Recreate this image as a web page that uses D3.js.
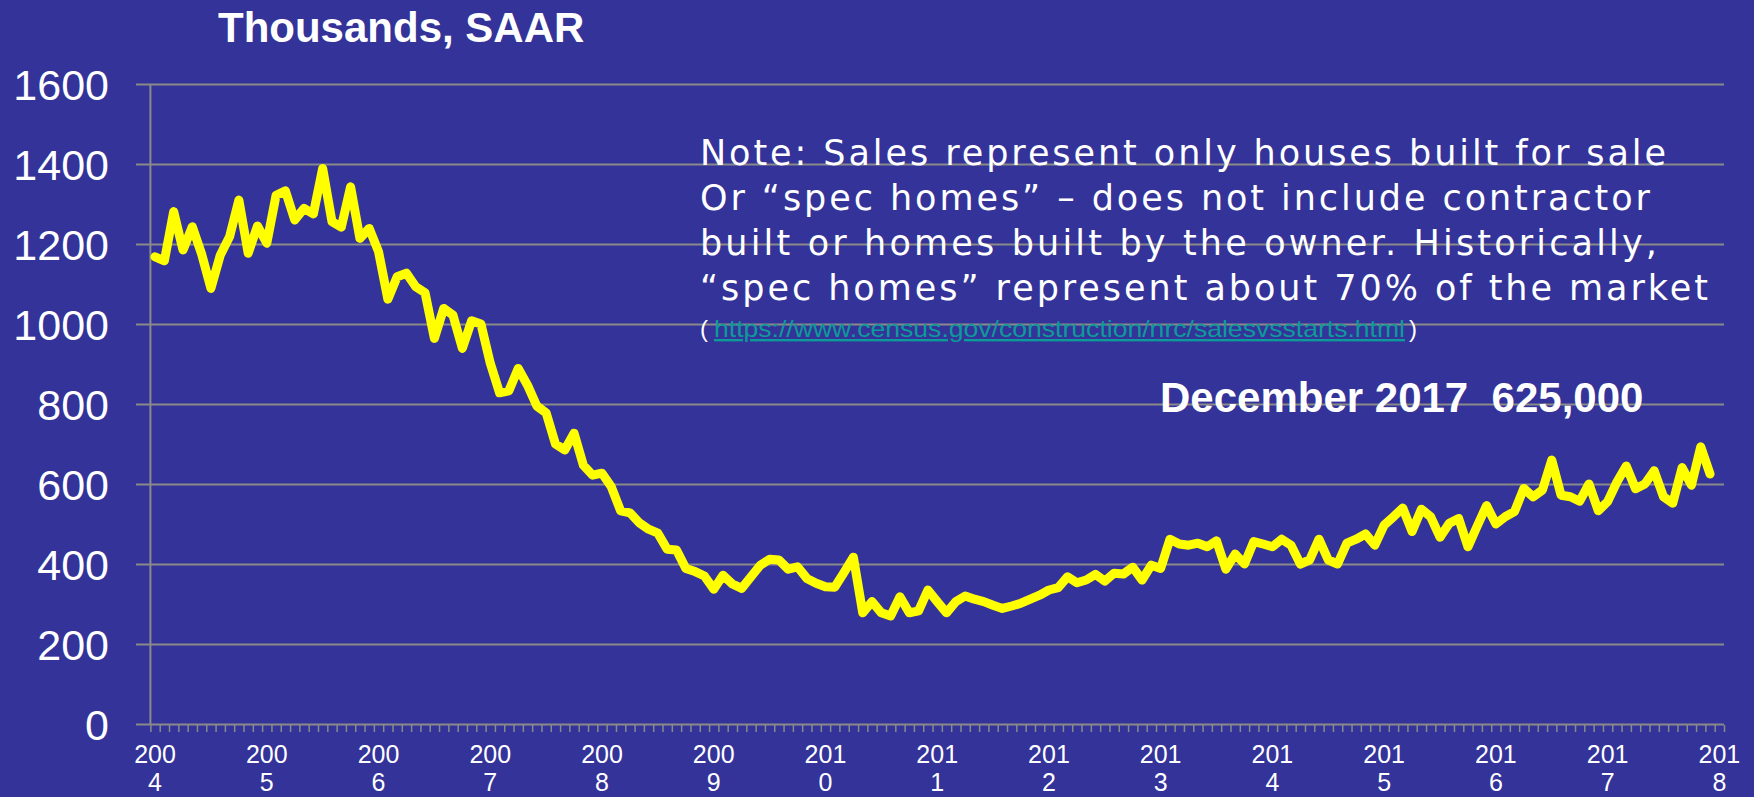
<!DOCTYPE html>
<html>
<head>
<meta charset="utf-8">
<script src="https://cdn.jsdelivr.net/npm/d3@7"></script>
<style>
  html, body { margin: 0; padding: 0; background: #333399; overflow: hidden; }
  svg { display: block; }
</style>
</head>
<body>
<svg id="chart" width="1754" height="797"></svg>
<script>
// ---- Data: new single-family houses sold (built for sale), thousands SAAR, Jan 2004 – Dec 2017 ----
const sales2004 = [1168, 1158, 1281, 1185, 1243, 1175, 1089, 1172, 1218, 1310, 1177, 1245];
const sales2005 = [1202, 1322, 1333, 1260, 1289, 1275, 1389, 1256, 1242, 1343, 1214, 1239];
const sales2006 = [1181, 1062, 1118, 1127, 1093, 1078, 964, 1039, 1022, 939, 1008, 1000];
const sales2007 = [902, 828, 833, 889, 847, 795, 778, 700, 685, 727, 647, 622];
const sales2008 = [627, 593, 533, 528, 503, 487, 477, 437, 435, 389, 381, 370];
const sales2009 = [337, 372, 350, 339, 368, 397, 412, 410, 387, 393, 364, 352];
const sales2010 = [343, 342, 379, 417, 278, 306, 278, 270, 318, 278, 283, 335];
const sales2011 = [306, 278, 306, 320, 312, 306, 297, 289, 295, 302, 312, 322];
const sales2012 = [335, 341, 368, 353, 360, 374, 357, 377, 375, 392, 360, 397];
const sales2013 = [389, 462, 450, 447, 452, 443, 458, 387, 425, 400, 456, 450];
const sales2014 = [443, 462, 447, 400, 410, 462, 410, 400, 452, 462, 475, 447];
const sales2015 = [497, 518, 540, 481, 537, 518, 467, 502, 514, 443, 495, 546];
const sales2016 = [500, 518, 531, 589, 568, 585, 660, 572, 568, 557, 600, 533];
const sales2017 = [556, 605, 645, 588, 600, 633, 568, 552, 641, 597, 693, 625];
const sales = [].concat(sales2004, sales2005, sales2006, sales2007, sales2008, sales2009, sales2010,
  sales2011, sales2012, sales2013, sales2014, sales2015, sales2016, sales2017);

const yTicks = [0, 200, 400, 600, 800, 1000, 1200, 1400, 1600];
const xYearLabels = ["2004","2005","2006","2007","2008","2009","2010","2011","2012","2013","2014","2015","2016","2017","2018"];
const categoryCount = 169; // Jan 2004 .. Jan 2018 monthly slots

const titleText = "Thousands, SAAR";
const noteLines = [
  "Note: Sales represent only houses built for sale",
  "Or \u201Cspec homes\u201D \u2013 does not include contractor",
  "built or homes built by the owner.  Historically,",
  "\u201Cspec homes\u201D represent about 70% of the market"
];
const linkText = "https://www.census.gov/construction/nrc/salesvsstarts.html";
const calloutText = "December 2017  625,000";

// ---- Layout ----
const W = 1754, H = 797;
const plotLeft = 150.4, plotRight = 1724, plotTop = 84, plotBottom = 724;
const gridLeft = 136;
const gridColor = "#8a8a8a";

const svg = d3.select("#chart");
svg.append("rect").attr("width", W).attr("height", H).attr("fill", "#333399");

const x = d3.scaleBand().domain(d3.range(categoryCount)).range([plotLeft, plotRight]).padding(0);
const xLin = d3.scaleLinear().domain([0, categoryCount]).range([plotLeft, plotRight]);
const y = d3.scaleLinear().domain([0, 1600]).range([plotBottom, plotTop]);
const bw = x.bandwidth();

// Gridlines + y labels via axisLeft
const yAxis = d3.axisLeft(y).tickValues(yTicks).tickFormat(d3.format("d"))
  .tickSize(-(plotRight - gridLeft)).tickPadding(27);
const gy = svg.append("g").attr("transform", `translate(${gridLeft},0)`).call(yAxis);
gy.select(".domain").remove();
gy.selectAll(".tick line").attr("stroke", gridColor).attr("stroke-width", 2);
gy.selectAll(".tick text")
  .attr("fill", "#ffffff")
  .attr("font-family", "'Liberation Sans', Arial, sans-serif")
  .attr("font-size", 43)
  .attr("dy", "0.36em");

// y axis vertical line
svg.append("line")
  .attr("x1", plotLeft).attr("x2", plotLeft)
  .attr("y1", plotTop).attr("y2", plotBottom)
  .attr("stroke", gridColor).attr("stroke-width", 2);

// Minor monthly ticks
const minorAxis = d3.axisBottom(xLin).tickValues(d3.range(categoryCount + 1)).tickSize(7).tickFormat("");
const gm = svg.append("g").attr("transform", `translate(0,${plotBottom + 1})`).call(minorAxis);
gm.select(".domain").remove();
gm.selectAll(".tick line").attr("stroke", gridColor).attr("stroke-width", 1.5);

// Year labels (split across two lines as in the original)
const xAxis = d3.axisBottom(x).tickValues(d3.range(0, categoryCount, 12)).tickSize(0).tickFormat("");
const gx = svg.append("g").attr("transform", `translate(0,${plotBottom})`).call(xAxis);
gx.select(".domain").remove();
gx.selectAll(".tick").each(function(d, i) {
  const lab = xYearLabels[i];
  const t = d3.select(this).append("text")
    .attr("fill", "#ffffff")
    .attr("font-family", "'Liberation Sans', Arial, sans-serif")
    .attr("font-size", 25)
    .attr("text-anchor", "middle");
  t.append("tspan").attr("x", 0).attr("y", 39).text(lab.slice(0, 3));
  t.append("tspan").attr("x", 0).attr("y", 67).text(lab.slice(3));
});

// Data line
const line = d3.line()
  .x((d, i) => x(i) + bw / 2)
  .y(d => y(d));
svg.append("path")
  .datum(sales)
  .attr("d", line)
  .attr("fill", "none")
  .attr("stroke", "#ffff00")
  .attr("stroke-width", 9)
  .attr("stroke-linejoin", "round")
  .attr("stroke-linecap", "round");

// Title
svg.append("text")
  .attr("x", 218).attr("y", 42)
  .attr("fill", "#ffffff")
  .attr("font-family", "'Liberation Sans', Arial, sans-serif")
  .attr("font-weight", "bold")
  .attr("font-size", 42)
  .text(titleText);

// Note block
const noteWidths = [966, 950, 957, 1008];
const noteFont = "'DejaVu Sans', sans-serif";
noteLines.forEach((s, i) => {
  svg.append("text")
    .attr("x", 700).attr("y", 165 + i * 45)
    .attr("fill", "#ffffff")
    .attr("font-family", noteFont)
    .attr("font-weight", 400)
    .attr("font-size", 35)
    .attr("textLength", noteWidths[i])
    .attr("lengthAdjust", "spacing")
    .text(s);
});
svg.append("text")
  .attr("x", 700).attr("y", 337)
  .attr("fill", "#ffffff")
  .attr("font-family", "'Liberation Sans', Arial, sans-serif")
  .attr("font-size", 24)
  .text("(");
svg.append("text")
  .attr("x", 714).attr("y", 337)
  .attr("fill", "#0e9a9a")
  .attr("font-family", "'Liberation Sans', Arial, sans-serif")
  .attr("font-size", 24)
  .attr("text-decoration", "underline")
  .attr("textLength", 691)
  .attr("lengthAdjust", "spacingAndGlyphs")
  .text(linkText);
svg.append("text")
  .attr("x", 1409).attr("y", 337)
  .attr("fill", "#ffffff")
  .attr("font-family", "'Liberation Sans', Arial, sans-serif")
  .attr("font-size", 24)
  .text(")");

// Callout
svg.append("text")
  .attr("x", 1160).attr("y", 412)
  .attr("fill", "#ffffff")
  .attr("font-family", "'Liberation Sans', Arial, sans-serif")
  .attr("font-weight", "bold")
  .attr("font-size", 42)
  .style("white-space", "pre")
  .text(calloutText);
</script>
</body>
</html>
